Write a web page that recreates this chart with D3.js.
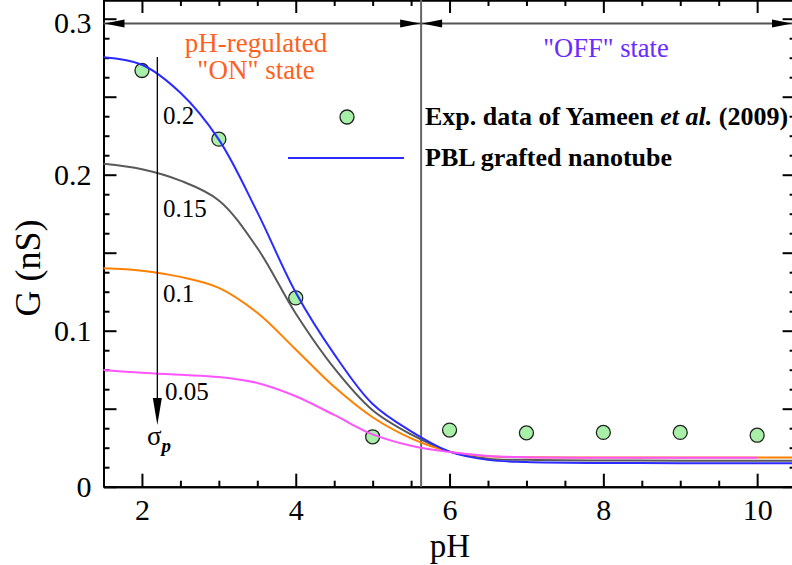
<!DOCTYPE html>
<html>
<head>
<meta charset="utf-8">
<script src="https://cdn.jsdelivr.net/npm/d3@7"></script>
<style>
  body { margin: 0; background: #fff; }
  svg { display: block; font-family: 'Liberation Serif', 'Times New Roman', serif; }
</style>
</head>
<body>
<svg width="792" height="565"></svg>
<script>
// pH grid the curves were read on
const pH = [1.5, 2, 2.5, 3, 3.5, 4, 4.5, 5, 5.5, 6, 6.5, 7, 8, 9, 10, 10.5];

// model curves G (nS) for each sigma_p
const G_020 = [0.2753, 0.2705, 0.2525, 0.2225, 0.176, 0.1245, 0.085, 0.053, 0.0355, 0.0225, 0.0172, 0.0158, 0.0152, 0.0151, 0.015, 0.015];
const G_015 = [0.207, 0.2035, 0.1962, 0.1835, 0.153, 0.111, 0.076, 0.049, 0.0335, 0.0225, 0.018, 0.0172, 0.0168, 0.0167, 0.0167, 0.0167];
const G_010 = [0.140, 0.1385, 0.1345, 0.1275, 0.1115, 0.088, 0.064, 0.0445, 0.031, 0.0225, 0.0195, 0.0189, 0.0187, 0.0187, 0.0187, 0.0187];
const G_005 = [0.0748, 0.073, 0.0717, 0.0703, 0.0665, 0.058, 0.046, 0.0335, 0.0262, 0.0222, 0.0197, 0.0189, 0.0186, 0.0186, 0.0186];

// experimental points (Yameen et al. 2009)
const expPH = [2, 3, 4, 5, 6, 7, 8, 9, 10];
const expG = [0.2668, 0.2228, 0.121, 0.032, 0.0363, 0.0345, 0.0348, 0.0348, 0.033];

const curveLabels = ['0.2', '0.15', '0.1', '0.05'];
const xTickLabels = [2, 4, 6, 8, 10];
const yTickLabels = [0, 0.1, 0.2, 0.3];

const svg = d3.select('svg');

// scales
const x = d3.scaleLinear().domain([1.5, 10.5]).range([103.5, 795.6]);
const y = d3.scaleLinear().domain([0, 0.312]).range([486.7, 0]);
const plotBottom = y(0), plotTop = y(0.312), plotLeft = x(1.5), plotRight = x(10.5);

const serif = "'Liberation Serif', 'Times New Roman', serif";

// ---- axes ----
const xMinor = d3.range(1.5, 10.51, 0.5).filter(d => !xTickLabels.includes(d));
const yMajor = [0, 0.05, 0.1, 0.15, 0.2, 0.25, 0.3];
const yMinor = d3.range(0, 0.312, 0.0125).filter(d => Math.abs(d / 0.05 - Math.round(d / 0.05)) > 1e-6);

function styleAxis(g) {
    g.select('.domain').attr('stroke', '#000').attr('stroke-width', 2);
    g.selectAll('.tick line').attr('stroke', '#000').attr('stroke-width', 2);
    g.selectAll('.tick text').attr('font-family', serif).attr('font-size', 30).attr('fill', '#000');
}

// bottom
svg.append('g').attr('transform', `translate(0,${plotBottom})`)
    .call(d3.axisBottom(x).tickValues(xMinor).tickSize(-6).tickFormat('').tickSizeOuter(0)).call(styleAxis);
svg.append('g').attr('transform', `translate(0,${plotBottom})`)
    .call(d3.axisBottom(x).tickValues(xTickLabels).tickSize(-13).tickPadding(12).tickFormat(d3.format('d')).tickSizeOuter(0))
    .call(styleAxis);
// top
svg.append('g').attr('transform', `translate(0,${plotTop})`)
    .call(d3.axisTop(x).tickValues(xMinor).tickSize(-6).tickFormat('').tickSizeOuter(0)).call(styleAxis);
svg.append('g').attr('transform', `translate(0,${plotTop})`)
    .call(d3.axisTop(x).tickValues(xTickLabels).tickSize(-13).tickFormat('').tickSizeOuter(0)).call(styleAxis);
// left
svg.append('g').attr('transform', `translate(${plotLeft},0)`)
    .call(d3.axisLeft(y).tickValues(yMinor).tickSize(-6).tickFormat('').tickSizeOuter(0)).call(styleAxis);
svg.append('g').attr('transform', `translate(${plotLeft},0)`)
    .call(d3.axisLeft(y).tickValues(yMajor).tickSize(-13).tickFormat('').tickSizeOuter(0)).call(styleAxis);
const yLab = svg.append('g').attr('transform', `translate(${plotLeft},0)`)
    .call(d3.axisLeft(y).tickValues(yTickLabels).tickSize(0).tickPadding(12)
        .tickFormat(d => d === 0 ? '0' : d.toFixed(1)).tickSizeOuter(0))
    .call(styleAxis);
yLab.select('.domain').remove();
yLab.selectAll('.tick').filter(d => d === 0.3).select('text').attr('dy', '0.45em');
// right
svg.append('g').attr('transform', `translate(${plotRight},0)`)
    .call(d3.axisRight(y).tickValues(yMinor).tickSize(-6).tickFormat('').tickSizeOuter(0)).call(styleAxis);
svg.append('g').attr('transform', `translate(${plotRight},0)`)
    .call(d3.axisRight(y).tickValues(yMajor).tickSize(-13).tickFormat('').tickSizeOuter(0)).call(styleAxis);

// axis titles
svg.append('text').attr('x', 450).attr('y', 557).attr('text-anchor', 'middle')
    .attr('font-size', 33).text('pH');
svg.append('text').attr('transform', 'translate(40,268) rotate(-90)').attr('text-anchor', 'middle')
    .attr('font-size', 36).text('G (nS)');

// ---- ON / OFF divider ----
const pHswitch = 5.63;
svg.append('line')
    .attr('x1', x(pHswitch)).attr('x2', x(pHswitch)).attr('y1', plotTop).attr('y2', plotBottom)
    .attr('stroke', '#666').attr('stroke-width', 2);

const arrowY = y(0.297);
svg.append('line').attr('x1', plotLeft).attr('x2', 792).attr('y1', arrowY).attr('y2', arrowY)
    .attr('stroke', '#555').attr('stroke-width', 2);

function arrowHead(tipX, tipY, dir, len, half) {
    // dir: 'left','right','down'
    let pts;
    if (dir === 'left') pts = [[tipX, tipY], [tipX + len, tipY - half], [tipX + len, tipY + half]];
    else if (dir === 'right') pts = [[tipX, tipY], [tipX - len, tipY - half], [tipX - len, tipY + half]];
    else pts = [[tipX, tipY], [tipX - half, tipY - len], [tipX + half, tipY - len]];
    svg.append('path').attr('d', d3.line()(pts) + 'Z').attr('fill', '#000');
}
arrowHead(plotLeft + 1, arrowY, 'left', 20, 4);
arrowHead(x(pHswitch) - 1, arrowY, 'right', 20, 4);
arrowHead(x(pHswitch) + 1, arrowY, 'left', 20, 4);
arrowHead(792, arrowY, 'right', 20, 4);

svg.append('text').attr('x', 256).attr('y', 52).attr('text-anchor', 'middle')
    .attr('font-size', 27).attr('fill', '#ff5f1f').text('pH-regulated');
svg.append('text').attr('x', 256).attr('y', 79).attr('text-anchor', 'middle')
    .attr('font-size', 27).attr('fill', '#ff5f1f').text('"ON" state');
svg.append('text').attr('x', 606).attr('y', 57).attr('text-anchor', 'middle')
    .attr('font-size', 26.5).attr('fill', '#6b2bff').text('"OFF" state');

// ---- experimental points ----
svg.append('g').selectAll('circle').data(expPH).join('circle')
    .attr('cx', d => x(d)).attr('cy', (d, i) => y(expG[i])).attr('r', 7)
    .attr('fill', '#a8f0a8').attr('stroke', '#222').attr('stroke-width', 1.3);

// ---- model curves ----
const line = d3.line().x(d => x(d[0])).y(d => y(d[1])).curve(d3.curveCatmullRom.alpha(0.5));
const series = [
    { vals: G_015, color: '#595959' },
    { vals: G_010, color: '#ff8000' },
    { vals: G_020, color: '#2b2bff' },
    { vals: G_005, color: '#ff55ff' }
];
series.forEach(s => {
    svg.append('path')
        .datum(s.vals.map((v, i) => [pH[i], v]))
        .attr('d', line).attr('fill', 'none')
        .attr('stroke', s.color).attr('stroke-width', 2);
});

// sigma_p arrow and labels
const sigX = x(2.2);
svg.append('line').attr('x1', sigX).attr('x2', sigX).attr('y1', y(0.2755)).attr('y2', y(0.048))
    .attr('stroke', '#000').attr('stroke-width', 1.3);
arrowHead(sigX, y(0.0396), 'down', 27, 4.5);
const labelPos = [[163, 124], [163, 217], [163, 302], [165, 400]];
curveLabels.forEach((t, i) => {
    svg.append('text').attr('x', labelPos[i][0]).attr('y', labelPos[i][1])
        .attr('font-size', 25).text(t);
});
const sig = svg.append('text').attr('x', 147).attr('y', 445).attr('font-size', 27);
sig.append('tspan').text('σ');
sig.append('tspan').attr('dy', 7).attr('font-size', 19).attr('font-style', 'italic').attr('font-weight', 'bold').text('p');

// ---- legend ----
svg.append('circle').attr('cx', 347).attr('cy', 117).attr('r', 7)
    .attr('fill', '#a8f0a8').attr('stroke', '#222').attr('stroke-width', 1.3);
const leg1 = svg.append('text').attr('x', 425).attr('y', 125).attr('font-size', 26).attr('font-weight', 'bold');
leg1.append('tspan').text('Exp. data of Yameen ');
leg1.append('tspan').attr('font-style', 'italic').text('et al.');
leg1.append('tspan').text(' (2009)');
svg.append('line').attr('x1', 288).attr('x2', 404).attr('y1', 158).attr('y2', 158)
    .attr('stroke', '#2b2bff').attr('stroke-width', 2);
svg.append('text').attr('x', 425).attr('y', 166).attr('font-size', 26).attr('font-weight', 'bold')
    .text('PBL grafted nanotube');
</script>
</body>
</html>
